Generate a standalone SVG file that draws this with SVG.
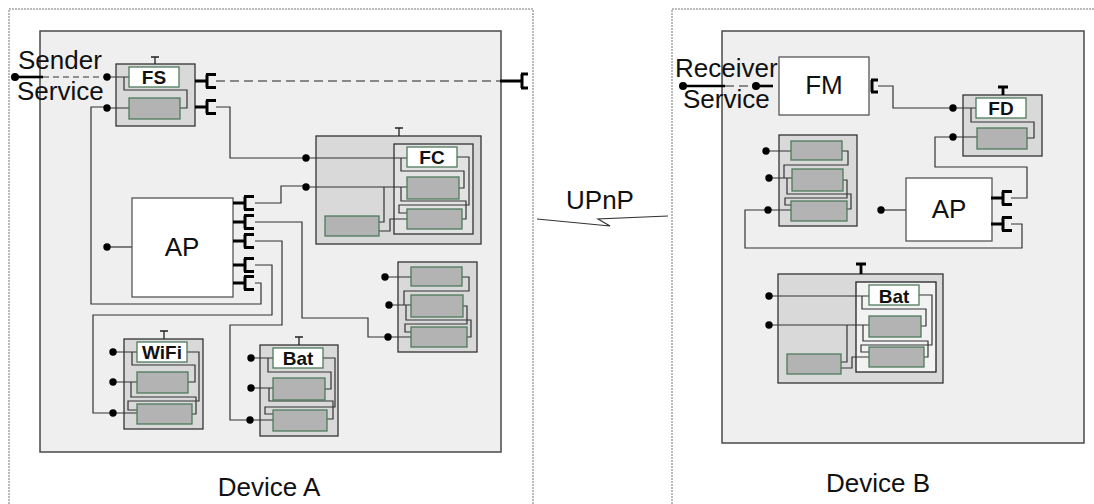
<svg xmlns="http://www.w3.org/2000/svg" xmlns:xlink="http://www.w3.org/1999/xlink" width="1094" height="504" viewBox="0 0 1094 504">
  <style>
    .frame { fill: none; stroke: #777; stroke-width: 1; stroke-dasharray: 2 1; }
    .dev { fill: #efefef; stroke: #4a4a4a; stroke-width: 1.5; }
    .comp { fill: #d9d9d9; stroke: #333; stroke-width: 1.3; }
    .inner { fill: #e3e3e3; stroke: #333; stroke-width: 1.3; }
    .innerl { fill: #f2f2f2; stroke: #222; stroke-width: 1.3; }
    .lbl { fill: #fff; stroke: #4d7a5c; stroke-width: 1.3; }
    .blk { fill: #b3b3b3; stroke: #4d7a5c; stroke-width: 1.3; }
    .box { fill: #fff; stroke: #555; stroke-width: 1.3; }
    .w { fill: none; stroke: #333; stroke-width: 1.2; }
    .sock { fill: none; stroke: #000; stroke-width: 3; }
    .thick { fill: none; stroke: #000; stroke-width: 2.6; }
    .dash { fill: none; stroke: #888; stroke-width: 2; stroke-dasharray: 9 5; }
    .dashk { fill: none; stroke: #333; stroke-width: 1.2; stroke-dasharray: 6 4; }
    .pin { fill: none; stroke: #222; stroke-width: 1.3; }
    .pinb { fill: none; stroke: #000; stroke-width: 2.8; }
    .dot { fill: #000; }
    .big { font-family: "Liberation Sans", Arial, sans-serif; font-size: 26px; fill: #111; }
    .tag { font-family: "Liberation Sans", Arial, sans-serif; font-weight: bold; font-size: 19px; fill: #111; text-anchor: middle; }
  </style>
  <defs>
    <!-- socket: stem from the owner's edge, then a bracket opening to the right -->
    <path id="sock" class="sock" d="M0,0 H12 M12,-6.5 V6.5 M11,-6.5 H21 M11,6.5 H21"/>
  </defs>

  <!-- device frames -->
  <path class="frame" d="M9,504 V9 H533 V504"/>
  <path class="frame" d="M672,504 V9 H1094"/>
  <rect id="deviceA-body" class="dev" x="40" y="31" width="461" height="421"/>
  <rect id="deviceB-body" class="dev" x="722" y="31" width="362" height="412"/>

  <!-- connectors -->
  <g id="connectors">
    <!-- Device A -->
    <path class="thick" d="M15,77 H43"/>
    <path class="dashk" d="M43,77 H107"/>
    <path class="dash" d="M216,81 H500"/>
    <path class="sock" d="M500,81 H522 M522,74 V88 M521,74 H528 M521,88 H528"/>
    <path class="w" d="M216,107 H230 V158 H306"/>
    <path class="w" d="M255,283 H261 V304 H91 V107 H107"/>
    <path class="w" d="M255,203 H281 V186 H306"/>
    <path class="w" d="M255,222 H302 V318 H368 V337 H388"/>
    <path class="w" d="M255,241 H282 V325 H230 V420 H250"/>
    <path class="w" d="M255,265 H272 V315 H93 V413 H113"/>
    <circle class="dot" cx="15" cy="77" r="4"/>
    <!-- Device B -->
    <path class="thick" d="M683,86 H725"/>
    <path class="dash" d="M725,86 H756"/>
    <path class="thick" d="M756,86 H773"/>
    <circle class="dot" cx="683" cy="86" r="4"/>
    <path class="w" d="M878,86 H893 V108 H953"/>
    <path class="w" d="M1011,198 H1027 V167 H935 V137 H953"/>
    <path class="w" d="M1011,224 H1022 V248 H745 V210 H768"/>
  </g>

  <!-- Device A nodes -->
  <g id="fs">
    <rect class="comp" x="116" y="64" width="79" height="62"/>
    <path class="pin" d="M155,64 V57 M151,57 H159"/>
    <path class="w" d="M107,77 H129 M124,77 V90 H187 V108 H180 M107,108 H129"/>
    <rect class="lbl" x="129" y="67" width="50" height="20"/>
    <rect class="blk" x="129" y="98" width="51" height="21"/>
    <text class="tag" x="154" y="84" font-size="18">FS</text>
    <circle class="dot" cx="107" cy="77" r="3.7"/>
    <circle class="dot" cx="107" cy="108" r="3.7"/>
    <use xlink:href="#sock" x="195" y="81"/>
    <use xlink:href="#sock" x="195" y="107"/>
  </g>

  <g id="sender-service">
    <text class="big" x="18" y="69">Sender</text>
    <text class="big" x="17" y="100">Service</text>
  </g>

  <g id="ap-a">
    <path class="w" d="M107,247 H132"/>
    <rect class="box" x="132" y="198" width="101" height="99"/>
    <text class="big" x="182" y="256" text-anchor="middle">AP</text>
    <circle class="dot" cx="107" cy="247" r="3.7"/>
    <use xlink:href="#sock" x="233" y="203"/>
    <use xlink:href="#sock" x="233" y="222"/>
    <use xlink:href="#sock" x="233" y="241"/>
    <use xlink:href="#sock" x="233" y="265"/>
    <use xlink:href="#sock" x="233" y="283"/>
  </g>

  <g id="fc">
    <rect class="comp" x="316" y="136" width="165" height="108"/>
    <path class="pin" d="M399,136 V128 M395,128 H403"/>
    <rect class="inner" x="394" y="144" width="79" height="90"/>
    <path class="w" d="M306,158 H407 M401,158 V171 H464 V188 H459 M457,157 H469 V205 H399 V213 H407 M306,187 H407 M401,187 V201 H466 V219 H462 M379,222 H384 V187 M379,231 H390 V219 H407"/>
    <rect class="lbl" x="407" y="147" width="50" height="20"/>
    <rect class="blk" x="407" y="177" width="52" height="22"/>
    <rect class="blk" x="407" y="209" width="55" height="20"/>
    <rect class="blk" x="325" y="216" width="54" height="20"/>
    <text class="tag" x="432" y="164">FC</text>
    <circle class="dot" cx="306" cy="158" r="3.7"/>
    <circle class="dot" cx="306" cy="187" r="3.7"/>
  </g>

  <g id="stack-a">
    <rect class="comp" x="398" y="262" width="79" height="90"/>
    <path class="w" d="M385,277 H411 M462,277 H469 V291 H404 V305 M389,305 H411 M406,305 V320 H471 V337 H467 M463,306 H467 V324 H405 V332 H411 M388,337 H411"/>
    <rect class="blk" x="411" y="267" width="51" height="19"/>
    <rect class="blk" x="411" y="295" width="52" height="22"/>
    <rect class="blk" x="411" y="327" width="56" height="20"/>
    <circle class="dot" cx="385" cy="277" r="3.7"/>
    <circle class="dot" cx="389" cy="305" r="3.7"/>
    <circle class="dot" cx="388" cy="337" r="3.7"/>
  </g>

  <g id="wifi">
    <rect class="comp" x="124" y="339" width="79" height="90"/>
    <path class="pin" d="M164,339 V331 M160,331 H168"/>
    <path class="w" d="M113,352 H137 M132,352 V365 H195 V382 H188 M187,352 H199 V401 H128 V410 H137 M113,382 H137 M131,382 V397 H196 V414 H192 M113,413 H137"/>
    <rect class="lbl" x="137" y="342" width="50" height="20"/>
    <rect class="blk" x="137" y="372" width="51" height="21"/>
    <rect class="blk" x="137" y="404" width="55" height="20"/>
    <text class="tag" x="162" y="359" font-size="18">WiFi</text>
    <circle class="dot" cx="113" cy="352" r="3.7"/>
    <circle class="dot" cx="113" cy="382" r="3.7"/>
    <circle class="dot" cx="113" cy="413" r="3.7"/>
  </g>

  <g id="bat-a">
    <rect class="comp" x="260" y="345" width="78" height="91"/>
    <path class="pin" d="M299,345 V337 M295,337 H303"/>
    <path class="w" d="M251,358 H273 M268,358 V372 H331 V389 H325 M323,358 H335 V407 H265 V414 H273 M251,388 H273 M269,388 V401 H333 V419 H327 M250,420 H273"/>
    <rect class="lbl" x="273" y="348" width="50" height="20"/>
    <rect class="blk" x="273" y="378" width="52" height="22"/>
    <rect class="blk" x="273" y="410" width="54" height="21"/>
    <text class="tag" x="298" y="365">Bat</text>
    <circle class="dot" cx="251" cy="358" r="3.7"/>
    <circle class="dot" cx="251" cy="388" r="3.7"/>
    <circle class="dot" cx="250" cy="420" r="3.7"/>
  </g>

  <!-- link between the devices -->
  <g id="upnp">
    <text class="big" x="600" y="209" text-anchor="middle" font-size="24">UPnP</text>
    <polyline class="w" points="537,219 610,226 598,219 668,216"/>
  </g>

  <!-- Device B nodes -->
  <g id="receiver-service">
    <text class="big" x="675" y="77">Receiver</text>
    <text class="big" x="683" y="108">Service</text>
    <circle class="dot" cx="756" cy="86" r="4"/>
  </g>

  <g id="fm">
    <rect class="box" x="779" y="57" width="90" height="58"/>
    <text class="big" x="824" y="94" text-anchor="middle">FM</text>
    <path class="sock" d="M872,80 V92 M871,80 H878 M871,92 H878"/>
  </g>

  <g id="fd">
    <rect class="comp" x="963" y="95" width="79" height="61"/>
    <path class="pinb" d="M1003,95 V87 M998,87 H1008"/>
    <path class="w" d="M953,108 H976 M971,108 V122 H1034 V138 H1027 M953,137 H977"/>
    <rect class="lbl" x="976" y="98" width="50" height="20"/>
    <rect class="blk" x="977" y="128" width="50" height="21"/>
    <text class="tag" x="1001" y="115">FD</text>
    <circle class="dot" cx="953" cy="108" r="3.7"/>
    <circle class="dot" cx="953" cy="137" r="3.7"/>
  </g>

  <g id="stack-b">
    <rect class="comp" x="779" y="135" width="78" height="91"/>
    <path class="w" d="M766,151 H791 M842,151 H848 V165 H784 V178 M769,178 H792 M787,178 V194 H851 V209 H847 M843,180 H847 V198 H785 V205 H791 M768,210 H791"/>
    <rect class="blk" x="791" y="141" width="51" height="19"/>
    <rect class="blk" x="792" y="169" width="51" height="22"/>
    <rect class="blk" x="791" y="201" width="56" height="20"/>
    <circle class="dot" cx="766" cy="151" r="3.7"/>
    <circle class="dot" cx="769" cy="178" r="3.7"/>
    <circle class="dot" cx="768" cy="210" r="3.7"/>
  </g>

  <g id="ap-b">
    <path class="w" d="M881,210 H906"/>
    <rect class="box" x="906" y="178" width="86" height="63"/>
    <text class="big" x="949" y="218" text-anchor="middle">AP</text>
    <circle class="dot" cx="881" cy="210" r="3.7"/>
    <use xlink:href="#sock" x="991" y="198"/>
    <use xlink:href="#sock" x="991" y="224"/>
  </g>

  <g id="bat-b">
    <rect class="comp" x="778" y="274" width="165" height="109"/>
    <path class="pinb" d="M861,274 V264 M856,264 H866"/>
    <rect class="innerl" x="856" y="282" width="80" height="90"/>
    <path class="w" d="M769,296 H869 M862,296 V309 H926 V326 H921 M919,295 H932 V345 H861 V352 H869 M769,325 H869 M863,325 V341 H928 V357 H924 M841,362 H847 V325 M841,368 H852 V357 H869"/>
    <rect class="lbl" x="869" y="285" width="50" height="20"/>
    <rect class="blk" x="869" y="316" width="52" height="21"/>
    <rect class="blk" x="869" y="347" width="55" height="20"/>
    <rect class="blk" x="787" y="354" width="54" height="20"/>
    <text class="tag" x="894" y="303" font-size="23">Bat</text>
    <circle class="dot" cx="769" cy="296" r="3.7"/>
    <circle class="dot" cx="769" cy="325" r="3.7"/>
  </g>

  <!-- captions -->
  <text class="big" x="269" y="496" text-anchor="middle">Device A</text>
  <text class="big" x="878" y="492" text-anchor="middle">Device B</text>
</svg>
